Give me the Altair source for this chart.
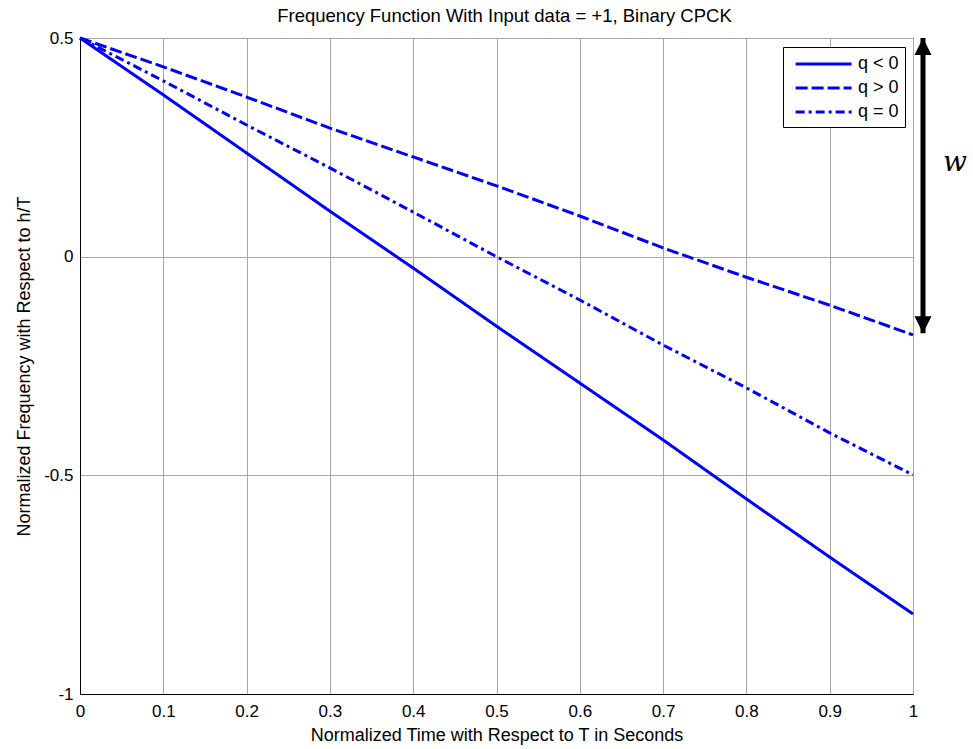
import altair as alt
import pandas as pd

# ---- data ----
t = [0.0, 0.1, 0.2, 0.3, 0.4, 0.5, 0.6, 0.7, 0.8, 0.9, 1.0]
q_neg = [0.5, 0.370, 0.237, 0.104, -0.026, -0.159, -0.289, -0.419, -0.554, -0.687, -0.817]
q_pos = [0.5, 0.434, 0.365, 0.294, 0.228, 0.162, 0.093, 0.020, -0.047, -0.111, -0.179]
q_zero = [0.5, 0.402, 0.301, 0.203, 0.102, 0.0, -0.099, -0.202, -0.300, -0.403, -0.499]
series_names = ["q < 0", "q > 0", "q = 0"]
x_ticks = [0.0, 0.1, 0.2, 0.3, 0.4, 0.5, 0.6, 0.7, 0.8, 0.9, 1.0]
y_ticks = [-1, -0.5, 0, 0.5]
w_range = [0.5, -0.175]      # extent of the "w" arrow
w_label = ["w"]

rows = []
for name, vals in zip(series_names, [q_neg, q_pos, q_zero]):
    for xi, yi in zip(t, vals):
        rows.append({"t": xi, "f": yi, "q": name})
df = pd.DataFrame(rows)

arrow_df = pd.DataFrame({"top": [w_range[0]], "bottom": [w_range[1]], "label": w_label})

FONT = "Liberation Sans"
BLUE = "#0000ff"

xscale = alt.Scale(domain=[0, 1], nice=False, zero=False)
yscale = alt.Scale(domain=[-1, 0.5], nice=False, zero=False)

lines = alt.Chart(df).mark_line(strokeWidth=3, color=BLUE, clip=False).encode(
    x=alt.X("t:Q", scale=xscale,
            axis=alt.Axis(values=x_ticks, title="Normalized Time with Respect to T in Seconds",
                          labelExpr="'' + datum.value", labelFlush=False, labelOverlap=False,
                          ticks=False, labelPadding=9, titlePadding=7)),
    y=alt.Y("f:Q", scale=yscale,
            axis=alt.Axis(values=y_ticks, title="Normalized Frequency with Respect to h/T",
                          labelExpr="'' + datum.value", labelFlush=False, labelOverlap=False,
                          ticks=False, labelPadding=7, titlePadding=10)),
    strokeDash=alt.StrokeDash("q:N",
        scale=alt.Scale(domain=series_names, range=[[1, 0], [12, 4], [9, 4, 3, 4]]),
        legend=alt.Legend(title=None, orient="none", legendX=703, legendY=9,
                          symbolType="M-0.465,0H5.52", symbolSize=350, symbolStrokeWidth=3,
                          symbolStrokeColor=BLUE, labelFontSize=18, labelFont=FONT,
                          labelColor="black", strokeColor="black", fillColor="white",
                          padding=6, rowPadding=4, labelOffset=47, cornerRadius=0)),
    detail="q:N",
)

shaft = alt.Chart(arrow_df).mark_rule(color="black", strokeWidth=5, clip=False).encode(
    x=alt.value(843),
    y=alt.Y("top:Q", scale=yscale),
    y2="bottom:Q",
)
head_up = alt.Chart(arrow_df).mark_point(shape="M0,0L1,2L-1,2Z", size=289, filled=True,
                                         color="black", opacity=1, clip=False).encode(
    x=alt.value(843), y=alt.Y("top:Q", scale=yscale))
head_down = alt.Chart(arrow_df).mark_point(shape="M0,0L1,-2L-1,-2Z", size=289, filled=True,
                                           color="black", opacity=1, clip=False).encode(
    x=alt.value(843), y=alt.Y("bottom:Q", scale=yscale))
w_text = alt.Chart(arrow_df).mark_text(font="DejaVu Serif", fontStyle="italic", fontSize=28,
                                       color="black", align="center", baseline="middle").encode(
    x=alt.value(875), y=alt.value(125), text="label:N")

chart = alt.layer(lines, shaft, head_up, head_down, w_text).properties(
    width=833, height=656,
    autosize=alt.AutoSizeParams(type="none"),
    padding={"left": 80, "top": 38, "right": 60, "bottom": 55},
    background="white",
    title=alt.TitleParams("Frequency Function With Input data = +1, Binary CPCK",
                          font=FONT, fontSize=18.5, fontWeight="normal", color="black",
                          anchor="middle", offset=4, dx=8),
).configure_view(stroke="black", strokeWidth=1).configure_axis(
    labelFont=FONT, labelFontSize=17, labelColor="black",
    titleFont=FONT, titleFontSize=18, titleFontWeight="normal", titleColor="black",
    domainColor="black", domainWidth=1, gridColor="#a6a6a6", gridWidth=1, gridOpacity=1,
)

chart.save("out.html", embed_options={"renderer": "svg", "actions": False})
